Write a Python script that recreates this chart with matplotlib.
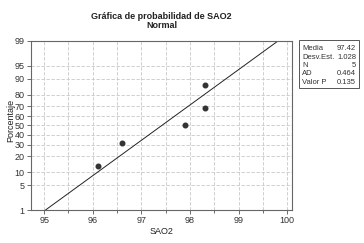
from statistics import NormalDist

import matplotlib
matplotlib.use('Agg')
import matplotlib.pyplot as plt
import numpy as np
from matplotlib.patches import Rectangle

plt.rcParams['font.family'] = ['Liberation Sans Narrow', 'Liberation Sans', 'DejaVu Sans']

# data
sao2 = [96.1, 96.6, 97.9, 98.3, 98.3]
percent = [13.0, 31.5, 50.0, 68.5, 87.0]
y_ticks = [1, 5, 10, 20, 30, 40, 50, 60, 70, 80, 90, 95, 99]
x_ticks = [95, 96, 97, 98, 99, 100]

# summary box
media = 97.42
desv = 1.028
n = 5
ad = 0.464
valor_p = 0.135

nd = NormalDist()
z = lambda p: nd.inv_cdf(p / 100.0)

fig = plt.figure(figsize=(3.64, 2.43), dpi=100)
ax = fig.add_axes([0.0852, 0.1358, 0.717, 0.6955])

ax.plot(sao2, [z(p) for p in percent], 'o', color='#333333', markersize=3.3, zorder=3)

# fitted normal line
zz = np.array([z(1), z(99)])
ax.plot(media + desv * zz, zz, color='#222222', lw=0.7, zorder=2)

ax.set_xlim(94.73, 100.1)
ax.set_ylim(z(1), z(99))
ax.set_xticks(x_ticks)
ax.set_xticks(np.arange(95.5, 100, 1.0), minor=True)
ax.set_yticks([z(p) for p in y_ticks])
ax.set_yticklabels([str(p) for p in y_ticks])

for v in np.arange(95, 100.01, 0.5):
    ax.axvline(v, color='#c8c8c8', lw=0.6, ls=(0, (4, 2)), zorder=1)
for p in y_ticks:
    ax.axhline(z(p), color='#c8c8c8', lw=0.6, ls=(0, (4, 2)), zorder=1)

ax.tick_params(axis='both', which='major', labelsize=6.5, length=3, width=0.6,
               color='#555555', labelcolor='#333333', pad=1.5)
ax.tick_params(axis='x', which='minor', length=2, width=0.6, color='#555555')
for s in ax.spines.values():
    s.set_color('#666666')
    s.set_linewidth(0.8)

ax.set_xlabel('SAO2', fontsize=6.5, color='#222222', labelpad=1)
ax.set_ylabel('Porcentaje', fontsize=6.5, color='#222222')
ax.yaxis.set_label_coords(-0.06, 0.53)
ax.set_title('Gráfica de probabilidad de SAO2\nNormal', fontsize=6.5,
             fontweight='bold', color='#222222', pad=9, linespacing=1.1)

# stats box
W, H = 364.0, 243.0
fig.patches.append(Rectangle((299 / W, 1 - 88 / H), 60 / W, 48 / H,
                             transform=fig.transFigure, facecolor='white',
                             edgecolor='#555555', lw=0.7))
labels = ['Media', 'Desv.Est.', 'N', 'AD', 'Valor P']
values = ['%.2f' % media, '%.3f' % desv, str(n), '%.3f' % ad, '%.3f' % valor_p]
for i, (lab, val) in enumerate(zip(labels, values)):
    yy = 1 - (49 + i * 8.3) / H
    fig.text(302 / W, yy, lab, fontsize=5.5, color='#333333', va='center')
    fig.text(356 / W, yy, val, fontsize=5.5, color='#333333', va='center', ha='right')

fig.savefig('out.png', dpi=100)
